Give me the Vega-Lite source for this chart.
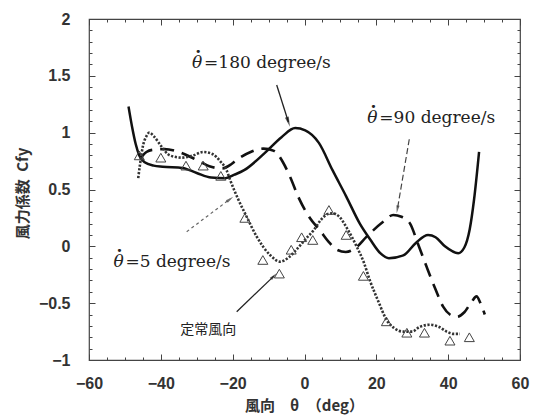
{
  "$schema": "https://vega.github.io/schema/vega-lite/v6.json",
  "autosize": "none",
  "width": 431,
  "height": 341,
  "padding": {"left": 89, "top": 19, "right": 13, "bottom": 57},
  "background": "white",
  "config": {
    "font": "Liberation Sans",
    "view": {"stroke": "#444", "strokeWidth": 1.2},
    "axis": {"grid": false, "domain": false, "tickColor": "#444", "tickWidth": 1, "labelColor": "#333", "labelFont": "Liberation Sans", "labelFontSize": 16, "labelFontWeight": "bold", "labelOverlap": false, "labelFlush": false}
  },
  "datasets": {
    "curves": [
      {"s": "180", "x": -49.0, "y": 1.23}, {"s": "180", "x": -48.0, "y": 1.05}, {"s": "180", "x": -47.0, "y": 0.9}, {"s": "180", "x": -46.0, "y": 0.8}, {"s": "180", "x": -44.5, "y": 0.74}, {"s": "180", "x": -42.0, "y": 0.71}, {"s": "180", "x": -39.5, "y": 0.7}, {"s": "180", "x": -34.0, "y": 0.69}, {"s": "180", "x": -30.0, "y": 0.645}, {"s": "180", "x": -26.0, "y": 0.605}, {"s": "180", "x": -22.0, "y": 0.6}, {"s": "180", "x": -19.5, "y": 0.63}, {"s": "180", "x": -16.8, "y": 0.67}, {"s": "180", "x": -11.1, "y": 0.82}, {"s": "180", "x": -6.4, "y": 0.96}, {"s": "180", "x": -2.6, "y": 1.04}, {"s": "180", "x": 0.2, "y": 1.02}, {"s": "180", "x": 4.0, "y": 0.91}, {"s": "180", "x": 7.8, "y": 0.67}, {"s": "180", "x": 11.6, "y": 0.44}, {"s": "180", "x": 15.4, "y": 0.2}, {"s": "180", "x": 18.3, "y": 0.06}, {"s": "180", "x": 21.1, "y": -0.06}, {"s": "180", "x": 23.5, "y": -0.105}, {"s": "180", "x": 27.5, "y": -0.08}, {"s": "180", "x": 31.0, "y": 0.03}, {"s": "180", "x": 34.4, "y": 0.1}, {"s": "180", "x": 36.5, "y": 0.08}, {"s": "180", "x": 39.1, "y": 0.0}, {"s": "180", "x": 42.8, "y": -0.06}, {"s": "180", "x": 44.5, "y": -0.01}, {"s": "180", "x": 46.0, "y": 0.15}, {"s": "180", "x": 47.2, "y": 0.41}, {"s": "180", "x": 48.6, "y": 0.83},
      {"s": "90", "x": -45.5, "y": 0.78}, {"s": "90", "x": -44.0, "y": 0.83}, {"s": "90", "x": -42.0, "y": 0.85}, {"s": "90", "x": -39.0, "y": 0.855}, {"s": "90", "x": -35.0, "y": 0.83}, {"s": "90", "x": -30.0, "y": 0.76}, {"s": "90", "x": -26.0, "y": 0.7}, {"s": "90", "x": -23.0, "y": 0.685}, {"s": "90", "x": -20.5, "y": 0.72}, {"s": "90", "x": -18.9, "y": 0.76}, {"s": "90", "x": -15.0, "y": 0.83}, {"s": "90", "x": -11.5, "y": 0.86}, {"s": "90", "x": -8.5, "y": 0.84}, {"s": "90", "x": -6.0, "y": 0.74}, {"s": "90", "x": -4.0, "y": 0.61}, {"s": "90", "x": -1.5, "y": 0.42}, {"s": "90", "x": 1.5, "y": 0.25}, {"s": "90", "x": 4.3, "y": 0.14}, {"s": "90", "x": 7.0, "y": 0.03}, {"s": "90", "x": 9.0, "y": -0.03}, {"s": "90", "x": 11.5, "y": -0.05}, {"s": "90", "x": 14.0, "y": -0.02}, {"s": "90", "x": 17.3, "y": 0.085}, {"s": "90", "x": 21.9, "y": 0.217}, {"s": "90", "x": 24.7, "y": 0.276}, {"s": "90", "x": 27.0, "y": 0.26}, {"s": "90", "x": 29.4, "y": 0.2}, {"s": "90", "x": 31.5, "y": 0.03}, {"s": "90", "x": 34.0, "y": -0.18}, {"s": "90", "x": 36.5, "y": -0.38}, {"s": "90", "x": 38.6, "y": -0.53}, {"s": "90", "x": 40.5, "y": -0.6}, {"s": "90", "x": 42.4, "y": -0.62}, {"s": "90", "x": 44.5, "y": -0.58}, {"s": "90", "x": 46.5, "y": -0.49}, {"s": "90", "x": 47.9, "y": -0.44}, {"s": "90", "x": 49.0, "y": -0.5}, {"s": "90", "x": 50.2, "y": -0.6},
      {"s": "5", "x": -46.3, "y": 0.6}, {"s": "5", "x": -45.8, "y": 0.72}, {"s": "5", "x": -45.0, "y": 0.88}, {"s": "5", "x": -44.0, "y": 0.97}, {"s": "5", "x": -43.2, "y": 1.0}, {"s": "5", "x": -42.0, "y": 0.97}, {"s": "5", "x": -39.8, "y": 0.877}, {"s": "5", "x": -38.0, "y": 0.81}, {"s": "5", "x": -36.5, "y": 0.79}, {"s": "5", "x": -34.0, "y": 0.78}, {"s": "5", "x": -31.0, "y": 0.8}, {"s": "5", "x": -28.2, "y": 0.83}, {"s": "5", "x": -25.5, "y": 0.81}, {"s": "5", "x": -23.5, "y": 0.75}, {"s": "5", "x": -21.7, "y": 0.67}, {"s": "5", "x": -20.7, "y": 0.584}, {"s": "5", "x": -18.4, "y": 0.41}, {"s": "5", "x": -16.1, "y": 0.26}, {"s": "5", "x": -13.3, "y": 0.085}, {"s": "5", "x": -9.6, "y": -0.076}, {"s": "5", "x": -6.8, "y": -0.135}, {"s": "5", "x": -4.5, "y": -0.1}, {"s": "5", "x": -2.0, "y": -0.02}, {"s": "5", "x": 0.5, "y": 0.07}, {"s": "5", "x": 2.5, "y": 0.14}, {"s": "5", "x": 4.5, "y": 0.23}, {"s": "5", "x": 6.5, "y": 0.285}, {"s": "5", "x": 7.8, "y": 0.29}, {"s": "5", "x": 9.7, "y": 0.26}, {"s": "5", "x": 12.0, "y": 0.15}, {"s": "5", "x": 14.5, "y": 0.0}, {"s": "5", "x": 16.5, "y": -0.14}, {"s": "5", "x": 18.2, "y": -0.3}, {"s": "5", "x": 20.5, "y": -0.48}, {"s": "5", "x": 22.9, "y": -0.65}, {"s": "5", "x": 25.0, "y": -0.72}, {"s": "5", "x": 27.5, "y": -0.75}, {"s": "5", "x": 30.0, "y": -0.75}, {"s": "5", "x": 32.0, "y": -0.71}, {"s": "5", "x": 34.9, "y": -0.69}, {"s": "5", "x": 37.5, "y": -0.71}, {"s": "5", "x": 39.6, "y": -0.75}, {"s": "5", "x": 41.5, "y": -0.77}, {"s": "5", "x": 43.3, "y": -0.77}
    ],
    "steady": [
      {"x": -46.0, "y": 0.8}, {"x": -40.0, "y": 0.78}, {"x": -33.0, "y": 0.71}, {"x": -28.2, "y": 0.71}, {"x": -23.3, "y": 0.62}, {"x": -16.6, "y": 0.25}, {"x": -11.6, "y": -0.12}, {"x": -7.0, "y": -0.24}, {"x": -3.7, "y": -0.03}, {"x": -0.8, "y": 0.08}, {"x": 2.3, "y": 0.056}, {"x": 6.8, "y": 0.32}, {"x": 11.6, "y": 0.1}, {"x": 16.4, "y": -0.26}, {"x": 22.8, "y": -0.66}, {"x": 28.5, "y": -0.76}, {"x": 33.4, "y": -0.76}, {"x": 40.5, "y": -0.83}, {"x": 45.9, "y": -0.8}
    ],
    "labels": [
      {"k": "180", "x": -31.3, "y": 1.61, "t": "=180 degree/s"},
      {"k": "90", "x": 17.5, "y": 1.126, "t": "=90 degree/s"},
      {"k": "5", "x": -53.2, "y": -0.135, "t": "=5 degree/s"}
    ],
    "cjk": [
      {"x": -26.8, "y": -0.74, "t": "定常風向"}
    ],
    "arrows": [
      {"k": "a180", "x": -7.74, "y": 1.419, "x2": -4.48, "y2": 1.094},
      {"k": "a90", "x": 29.17, "y": 0.942, "x2": 25.85, "y2": 0.325},
      {"k": "a5", "x": -32.8, "y": 0.129, "x2": -20.72, "y2": 0.416},
      {"k": "aS", "x": -18.88, "y": -0.575, "x2": -8.54, "y2": -0.262}
    ]
  },
  "resolve": {"scale": {"x": "shared", "y": "shared"}, "axis": {"x": "independent", "y": "independent"}},
  "layer": [
    {
      "data": {"name": "curves"},
      "transform": [{"filter": "datum.s === '180'"}],
      "mark": {"type": "line", "interpolate": "monotone", "color": "#111", "strokeWidth": 2.5},
      "encoding": {
        "x": {"field": "x", "type": "quantitative", "scale": {"domain": [-60, 60], "nice": false, "zero": false},
          "axis": {"orient": "bottom", "values": [-60, -40, -20, 0, 20, 40, 60], "tickSize": -6, "labelPadding": 21, "format": "d",
            "title": "風向\u2003θ\u2002（deg）", "titleFont": "Noto Sans CJK JP", "titleFontSize": 15, "titleFontWeight": "bold", "titleColor": "#333", "titleX": 215, "titleY": 45, "titleBaseline": "middle", "titleAlign": "center"}},
        "y": {"field": "y", "type": "quantitative", "scale": {"domain": [-1, 2], "nice": false, "zero": false},
          "axis": {"orient": "left", "values": [-1, -0.5, 0, 0.5, 1, 1.5, 2], "tickSize": -6, "labelPadding": 25, "format": "~g",
            "title": "風力係数\u2002Cfy", "titleFont": "Noto Sans CJK JP", "titleFontSize": 15, "titleFontWeight": "bold", "titleColor": "#333", "titleAngle": -90, "titleX": -67, "titleY": 174, "titleBaseline": "middle", "titleAlign": "center"}}
      }
    },
    {
      "data": {"name": "curves"},
      "transform": [{"filter": "datum.s === '90'"}],
      "mark": {"type": "line", "interpolate": "monotone", "color": "#111", "strokeWidth": 2.6, "strokeDash": [14, 8]},
      "encoding": {
        "x": {"field": "x", "type": "quantitative", "scale": {"domain": [-60, 60], "nice": false, "zero": false},
          "axis": {"orient": "bottom", "values": [-55, -50, -45, -35, -30, -25, -15, -10, -5, 5, 10, 15, 25, 30, 35, 45, 50, 55], "tickSize": -3, "labels": false, "title": null}},
        "y": {"field": "y", "type": "quantitative", "scale": {"domain": [-1, 2], "nice": false, "zero": false},
          "axis": {"orient": "left", "values": [-0.9, -0.8, -0.7, -0.6, -0.4, -0.3, -0.2, -0.1, 0.1, 0.2, 0.3, 0.4, 0.6, 0.7, 0.8, 0.9, 1.1, 1.2, 1.3, 1.4, 1.6, 1.7, 1.8, 1.9], "tickSize": -3, "labels": false, "title": null}}
      }
    },
    {
      "data": {"name": "curves"},
      "transform": [{"filter": "datum.s === '5'"}],
      "mark": {"type": "line", "interpolate": "monotone", "color": "#333", "strokeWidth": 2.6, "strokeDash": [2.2, 1.6]},
      "encoding": {
        "x": {"field": "x", "type": "quantitative", "scale": {"domain": [-60, 60], "nice": false, "zero": false},
          "axis": {"orient": "top", "values": [-60, -40, -20, 0, 20, 40, 60], "tickSize": -6, "labels": false, "title": null}},
        "y": {"field": "y", "type": "quantitative", "scale": {"domain": [-1, 2], "nice": false, "zero": false},
          "axis": {"orient": "right", "values": [-1, -0.5, 0, 0.5, 1, 1.5, 2], "tickSize": -6, "labels": false, "title": null}}
      }
    },
    {
      "data": {"name": "steady"},
      "mark": {"type": "point", "shape": "triangle-up", "size": 100, "filled": false, "stroke": "#444", "strokeWidth": 1, "fill": "white", "fillOpacity": 0},
      "encoding": {
        "x": {"field": "x", "type": "quantitative", "scale": {"domain": [-60, 60], "nice": false, "zero": false},
          "axis": {"orient": "top", "values": [-55, -50, -45, -35, -30, -25, -15, -10, -5, 5, 10, 15, 25, 30, 35, 45, 50, 55], "tickSize": -3, "labels": false, "title": null}},
        "y": {"field": "y", "type": "quantitative", "scale": {"domain": [-1, 2], "nice": false, "zero": false},
          "axis": {"orient": "right", "values": [-0.9, -0.8, -0.7, -0.6, -0.4, -0.3, -0.2, -0.1, 0.1, 0.2, 0.3, 0.4, 0.6, 0.7, 0.8, 0.9, 1.1, 1.2, 1.3, 1.4, 1.6, 1.7, 1.8, 1.9], "tickSize": -3, "labels": false, "title": null}}
      }
    },
    {
      "data": {"name": "labels"},
      "mark": {"type": "text", "font": "DejaVu Serif", "fontSize": 17, "fontStyle": "italic", "color": "#222", "align": "left", "baseline": "middle"},
      "encoding": {
        "x": {"field": "x", "type": "quantitative", "axis": null},
        "y": {"field": "y", "type": "quantitative", "axis": null},
        "text": {"value": "θ"}
      }
    },
    {
      "data": {"name": "labels"},
      "mark": {"type": "text", "font": "DejaVu Serif", "fontSize": 17, "fontWeight": "bold", "color": "#222", "align": "center", "baseline": "middle", "dx": 6, "dy": -11},
      "encoding": {
        "x": {"field": "x", "type": "quantitative", "axis": null},
        "y": {"field": "y", "type": "quantitative", "axis": null},
        "text": {"value": "·"}
      }
    },
    {
      "data": {"name": "labels"},
      "mark": {"type": "text", "font": "DejaVu Serif", "fontSize": 17, "color": "#222", "align": "left", "baseline": "middle", "dx": 12},
      "encoding": {
        "x": {"field": "x", "type": "quantitative", "axis": null},
        "y": {"field": "y", "type": "quantitative", "axis": null},
        "text": {"field": "t"}
      }
    },
    {
      "data": {"name": "cjk"},
      "mark": {"type": "text", "font": "Noto Sans CJK JP", "fontSize": 14, "color": "#222", "align": "center", "baseline": "middle"},
      "encoding": {
        "x": {"field": "x", "type": "quantitative", "axis": null},
        "y": {"field": "y", "type": "quantitative", "axis": null},
        "text": {"field": "t"}
      }
    },
    {
      "data": {"name": "arrows"},
      "transform": [{"filter": "datum.k === 'a180' || datum.k === 'aS'"}],
      "mark": {"type": "rule", "color": "#222", "strokeWidth": 1.3},
      "encoding": {
        "x": {"field": "x", "type": "quantitative", "axis": null}, "y": {"field": "y", "type": "quantitative", "axis": null},
        "x2": {"field": "x2"}, "y2": {"field": "y2"}
      }
    },
    {
      "data": {"name": "arrows"},
      "transform": [{"filter": "datum.k === 'a90'"}],
      "mark": {"type": "rule", "color": "#444", "strokeWidth": 1.2, "strokeDash": [6, 3]},
      "encoding": {
        "x": {"field": "x", "type": "quantitative", "axis": null}, "y": {"field": "y", "type": "quantitative", "axis": null},
        "x2": {"field": "x2"}, "y2": {"field": "y2"}
      }
    },
    {
      "data": {"name": "arrows"},
      "transform": [{"filter": "datum.k === 'a5'"}],
      "mark": {"type": "rule", "color": "#666", "strokeWidth": 1.2, "strokeDash": [3, 3]},
      "encoding": {
        "x": {"field": "x", "type": "quantitative", "axis": null}, "y": {"field": "y", "type": "quantitative", "axis": null},
        "x2": {"field": "x2"}, "y2": {"field": "y2"}
      }
    },
    {
      "data": {"name": "arrows"},
      "transform": [{"filter": "datum.k === 'a180'"}],
      "mark": {"type": "point", "shape": "M0,-1L0.4,1L-0.4,1Z", "size": 100, "filled": true, "color": "#111", "angle": 161.6},
      "encoding": {"x": {"field": "x2", "type": "quantitative", "axis": null}, "y": {"field": "y2", "type": "quantitative", "axis": null}}
    },
    {
      "data": {"name": "arrows"},
      "transform": [{"filter": "datum.k === 'a90'"}],
      "mark": {"type": "point", "shape": "M0,-1L0.4,1L-0.4,1Z", "size": 64, "filled": true, "color": "#333", "angle": 189.7},
      "encoding": {"x": {"field": "x2", "type": "quantitative", "axis": null}, "y": {"field": "y2", "type": "quantitative", "axis": null}}
    },
    {
      "data": {"name": "arrows"},
      "transform": [{"filter": "datum.k === 'a5'"}],
      "mark": {"type": "point", "shape": "M0,-1L0.4,1L-0.4,1Z", "size": 64, "filled": true, "color": "#333", "angle": 53},
      "encoding": {"x": {"field": "x2", "type": "quantitative", "axis": null}, "y": {"field": "y2", "type": "quantitative", "axis": null}}
    },
    {
      "data": {"name": "arrows"},
      "transform": [{"filter": "datum.k === 'aS'"}],
      "mark": {"type": "point", "shape": "M0,-1L0.4,1L-0.4,1Z", "size": 64, "filled": true, "color": "#222", "angle": 46},
      "encoding": {"x": {"field": "x2", "type": "quantitative", "axis": null}, "y": {"field": "y2", "type": "quantitative", "axis": null}}
    }
  ]
}
